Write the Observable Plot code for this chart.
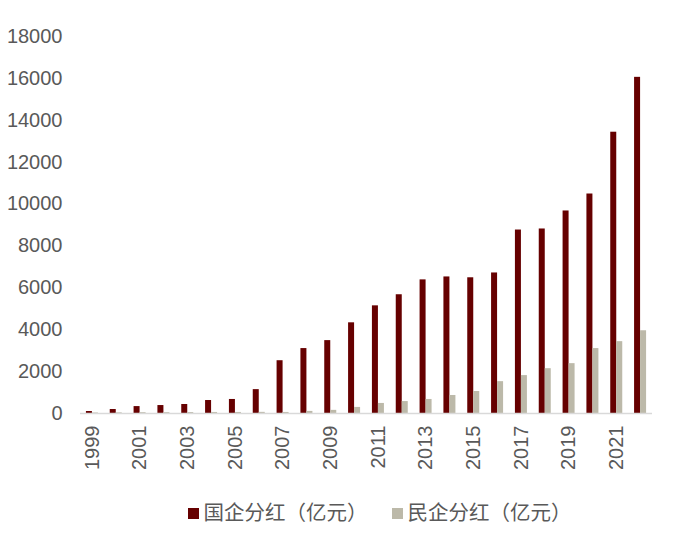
<!DOCTYPE html>
<html>
<head>
<meta charset="utf-8">
<script src="https://cdn.jsdelivr.net/npm/d3@7"></script>
<script src="https://cdn.jsdelivr.net/npm/@observablehq/plot@0.6"></script>
<style>
  body { margin: 0; background: #fff; font-family: "Liberation Sans", Arial, "Noto Sans CJK SC", sans-serif; }
  #chart { width: 687px; }
  .legend { display: flex; justify-content: center; gap: 24px; margin-top: 28px; font-size: 20.5px; line-height: 24px; color: #595959; font-family: "Liberation Sans", "Noto Sans CJK SC", sans-serif; padding-left: 72px; }
  .legend span.item { display: flex; align-items: center; }
  .legend span.sw { width: 11px; height: 11px; display: inline-block; margin-right: 5px; }
</style>
</head>
<body>
<div id="chart"></div>
<script>
const years = [1999,2000,2001,2002,2003,2004,2005,2006,2007,2008,2009,2010,2011,2012,2013,2014,2015,2016,2017,2018,2019,2020,2021,2022];
const seriesNames = ["国企分红（亿元）", "民企分红（亿元）"];
const soeDividends = [95,190,330,380,430,620,670,1140,2520,3100,3480,4330,5140,5670,6380,6520,6480,6710,8760,8810,9670,10480,13430,16050];
const privateDividends = [25,30,40,40,45,50,50,55,50,100,150,290,480,570,670,860,1050,1520,1810,2140,2380,3100,3430,3950];
const yTicks = [0,2000,4000,6000,8000,10000,12000,14000,16000,18000];
const colors = ["#660000", "#BCB9A9"];

const soe = years.map((y, i) => ({year: y, value: soeDividends[i]}));
const priv = years.map((y, i) => ({year: y, value: privateDividends[i]}));

const W = 687, ML = 80, MR = 35;
const bw = (W - ML - MR) / years.length;   // band width of each year
const barW = 6;

const plot = Plot.plot({
  width: W,
  height: 473,
  marginTop: 36,
  marginLeft: ML,
  marginRight: MR,
  marginBottom: 60,
  style: { fontFamily: "Liberation Sans, Arial, sans-serif", fontSize: "20px", color: "#595959", background: "#fff" },
  x: {
    type: "band",
    domain: years,
    padding: 0,
    round: false,
    label: null,
    tickSize: 0,
    tickPadding: 12,
    tickRotate: -90,
    tickFormat: d => (d % 2 ? String(d) : "")
  },
  y: { domain: [0, 18000], ticks: yTicks, tickSize: 0, tickPadding: 18, label: null, tickFormat: d => String(d) },
  marks: [
    Plot.barY(soe, { x: "year", y: "value", fill: colors[0], insetLeft: bw / 2 - barW, insetRight: bw / 2 }),
    Plot.barY(priv, { x: "year", y: "value", fill: colors[1], insetLeft: bw / 2, insetRight: bw / 2 - barW }),
    Plot.ruleY([0], { stroke: "#D9D9D9", strokeWidth: 1.5 })
  ]
});
document.getElementById("chart").appendChild(plot);

const legend = document.createElement("div");
legend.className = "legend";
seriesNames.forEach((s, i) => {
  const item = document.createElement("span");
  item.className = "item";
  const sw = document.createElement("span");
  sw.className = "sw";
  sw.style.background = colors[i];
  item.appendChild(sw);
  item.appendChild(document.createTextNode(s));
  legend.appendChild(item);
});
document.getElementById("chart").appendChild(legend);
</script>
</body>
</html>
